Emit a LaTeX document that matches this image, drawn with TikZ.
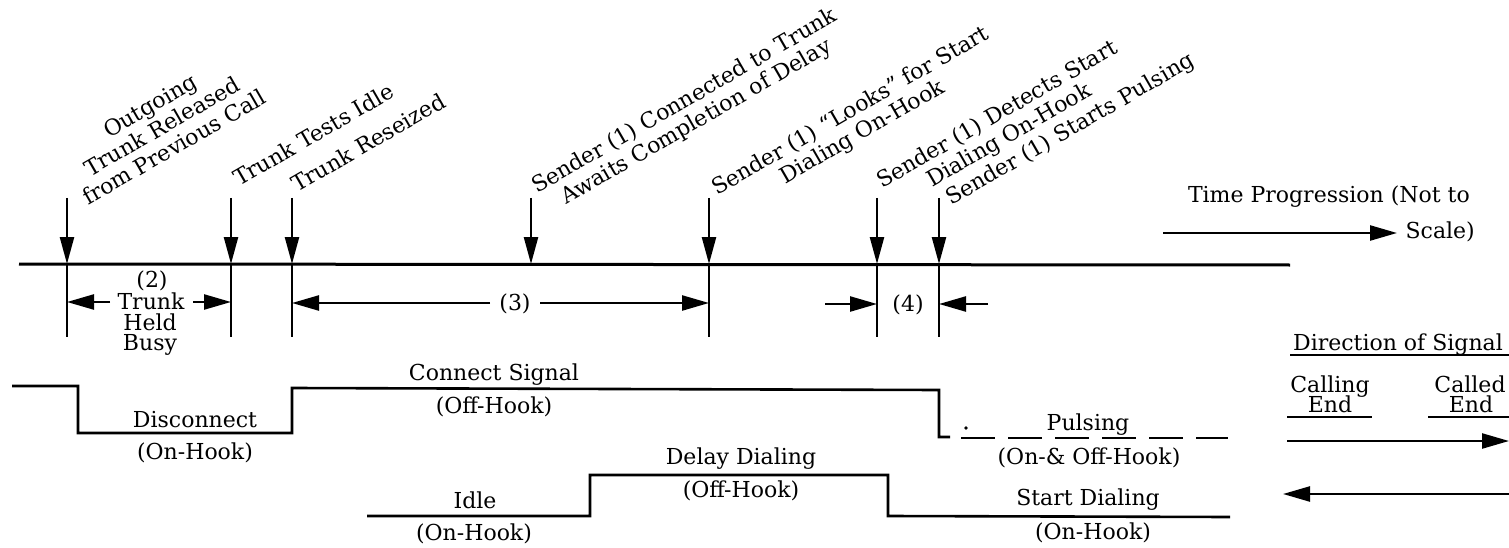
\documentclass[tikz,border=0pt]{standalone}
\usepackage{fontspec}
\setmainfont{DejaVu Serif}
\usetikzlibrary{arrows.meta}
\begin{document}
\begin{tikzpicture}[x=1pt,y=-1pt,
  lbl/.style={inner sep=0pt, font=\fontsize{22}{24}\selectfont, anchor=base},
  rlbl/.style={inner sep=0pt, font=\fontsize{22}{24}\selectfont, rotate=30, anchor=base west},
  sig/.style={line width=2.6pt, line join=miter},
  tick/.style={line width=2.4pt},
  evarrow/.style={line width=2.4pt, -{Triangle[length=27pt,width=14pt]}},
  dimarrow/.style={line width=2.4pt, -{Triangle[length=27pt,width=15pt]}},
  uline/.style={line width=1.8pt}]
\useasboundingbox (0,0) rectangle (1509,548);

% time line
\coordinate (L0) at (19,264);
\coordinate (L1) at (1290,265);
\draw[line width=3pt] (L0) -- (L1);

% event arrows and ticks
\foreach \n/\x in {1/67,2/231,3/292,4/531,5/709,6/877,7/939} {
  \coordinate (t\n) at (\x,198);
  \coordinate (b\n) at (\x,264);
  \coordinate (e\n) at (\x,337);
  \draw[evarrow] (t\n) -- (b\n);
}
\foreach \n in {1,2,3,5,6,7} { \draw[tick] (b\n) -- (e\n); }

% rotated event labels
\node[rlbl] (ev1) at (88,206) {\begin{tabular}[b]{@{}c@{}}Outgoing\\Trunk Released\\from Previous Call\end{tabular}};
\node[rlbl] (ev2) at (239,187) {Trunk Tests Idle};
\node[rlbl] (ev3) at (297,193) {Trunk Reseized};
\node[rlbl] (ev4) at (537,194) {\begin{tabular}[t]{@{}c@{}}Sender (1) Connected to Trunk\\Awaits Completion of Delay\end{tabular}};
\node[rlbl] (ev5) at (717,196) {\begin{tabular}[t]{@{}c@{}}Sender (1) “Looks” for Start\\Dialing On-Hook\end{tabular}};
\node[rlbl] (ev6) at (882,189) {\begin{tabular}[t]{@{}c@{}}Sender (1) Detects Start\\Dialing On-Hook\end{tabular}};
\node[rlbl] (ev7) at (951,206) {Sender (1) Starts Pulsing};

% interval (2)
\node[lbl] (i2) at (152,287) {(2)};
\node[lbl] (i2a) at (151,309) {Trunk};
\node[lbl] (i2b) at (150,330) {Held};
\node[lbl] (i2c) at (150,350) {Busy};
\coordinate (a2l) at (110,302);
\coordinate (a2r) at (193,302);
\draw[dimarrow] (a2l) -- (a2l -| b1);
\draw[dimarrow] (a2r) -- (a2r -| b2);

% interval (3)
\node[lbl] (i3) at (515,310) {(3)};
\coordinate (a3l) at (490,303);
\coordinate (a3r) at (540,303);
\draw[dimarrow] (a3l) -- (a3l -| b3);
\draw[dimarrow] (a3r) -- (a3r -| b5);

% interval (4)
\node[lbl] (i4) at (908,311) {(4)};
\coordinate (a4l) at (825,304);
\coordinate (a4r) at (988,304);
\draw[dimarrow] (a4l) -- (a4l -| b6);
\draw[dimarrow] (a4r) -- (a4r -| b7);

% forward signal waveform
\draw[sig] (12,386) -- (78,386) -- (78,433) -- (292,433) -- (292,388) -- (939,390) -- (939,437) -- (950,437);
\draw[sig, dash pattern=on 34pt off 13pt] (961,438) -- (1228,438);
\fill (966,428) circle (1.8pt);
\node[lbl] (s1) at (494,380) {Connect Signal};
\node[lbl] (s1b) at (494,413) {(Off-Hook)};
\node[lbl] (s2) at (195,427) {Disconnect};
\node[lbl] (s2b) at (195,459) {(On-Hook)};
\node[lbl] (s3) at (1088,430) {Pulsing};
\node[lbl] (s3b) at (1089,464) {(On-\& Off-Hook)};

% backward signal waveform
\draw[sig] (367,516) -- (590,516) -- (590,475) -- (888,475) -- (888,516) -- (1230,517);
\node[lbl] (r1) at (475,508) {Idle};
\node[lbl] (r1b) at (474,540) {(On-Hook)};
\node[lbl] (r2) at (741,464) {Delay Dialing};
\node[lbl] (r2b) at (741,497) {(Off-Hook)};
\node[lbl] (r3) at (1088,505) {Start Dialing};
\node[lbl] (r3b) at (1093,539) {(On-Hook)};

% time progression
\node[lbl, anchor=base east] (tp) at (1470,203) {Time Progression (Not to};
\node[lbl, anchor=base east] (tp2) at (1475,238) {Scale)};
\coordinate (tpa) at (1163,233);
\coordinate (tpb) at (1397,233);
\draw[dimarrow] (tpa) -- (tpb);

% direction legend
\node[lbl] (dir) at (1398,350) {Direction of Signal};
\draw[uline] (1290,355) -- (1509,355);
\node[lbl] (cg) at (1330,392) {Calling};
\node[lbl] (cge) at (1330,412) {End};
\node[lbl] (cd) at (1470,392) {Called};
\node[lbl] (cde) at (1471,412) {End};
\draw[uline] (1287,417) -- (1372,417);
\draw[uline] (1428,417) -- (1509,417);
\coordinate (fw0) at (1287,441);
\coordinate (fw1) at (1509,441);
\draw[dimarrow] (fw0) -- (fw1);
\coordinate (bw0) at (1509,494);
\coordinate (bw1) at (1283,494);
\draw[dimarrow] (bw0) -- (bw1);
\end{tikzpicture}
\end{document}
